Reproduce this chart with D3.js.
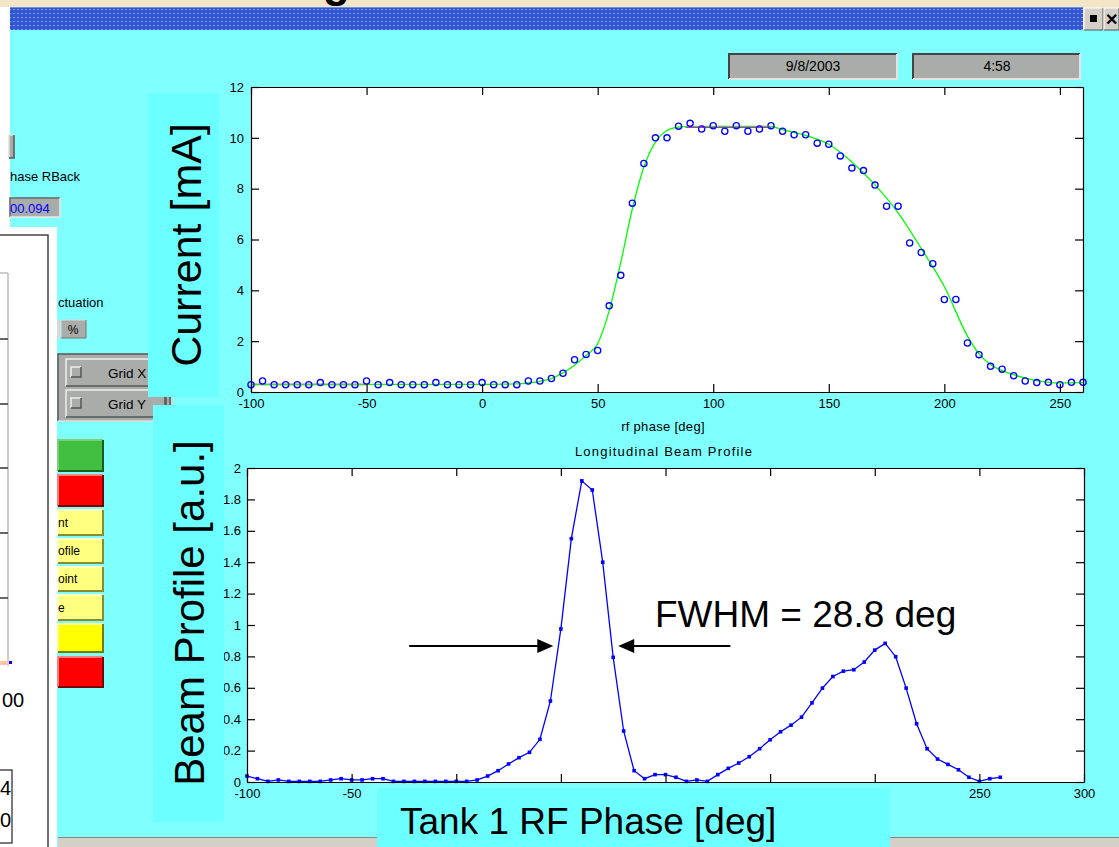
<!DOCTYPE html>
<html>
<head>
<meta charset="utf-8">
<script src="https://cdn.jsdelivr.net/npm/d3@7"></script>
<style>
body { margin: 0; overflow: hidden; background: #fff; }
</style>
</head>
<body>
<div id="chart"></div>
<script>
// phase scan: beam current vs rf phase, plus longitudinal beam profile

var scanPhase = [-100,-95,-90,-85,-80,-75,-70,-65,-60,-55,-50,-45,-40,-35,-30,-25,-20,-15,-10,-5,
  0,5,10,15,20,25,30,35,40,45,50,55,60,65,70,75,80,85,90,95,100,105,110,115,120,125,130,135,140,
  145,150,155,160,165,170,175,180,185,190,195,200,205,210,215,220,225,230,235,240,245,250,255,260];

var currentVals = [0.29,0.43,0.29,0.29,0.29,0.29,0.37,0.29,0.29,0.29,0.43,0.29,0.37,0.29,0.29,0.29,0.37,0.29,0.29,0.29,
  0.37,0.29,0.29,0.29,0.43,0.43,0.53,0.74,1.27,1.48,1.63,3.39,4.59,7.43,8.99,10.0,10.0,10.46,10.57,10.35,
  10.48,10.26,10.48,10.26,10.35,10.48,10.26,10.12,10.12,9.79,9.75,9.29,8.81,8.71,8.14,7.31,7.31,5.86,5.49,5.05,
  3.64,3.64,1.93,1.47,1.01,0.90,0.64,0.43,0.37,0.38,0.29,0.38,0.38];

var fitPhase = [-100,-60,-20,0,10,15,20,25,30,35,40,45,50,55,60,65,70,75,80,85,90,125,130,140,150,160,170,180,190,200,210,215,220,230,240,250,260];
var fitVals  = [0.30,0.30,0.30,0.30,0.31,0.32,0.36,0.42,0.53,0.75,1.05,1.44,1.90,3.20,5.10,7.20,8.85,9.83,10.29,10.42,10.45,10.45,10.32,10.10,9.75,9.05,8.15,7.05,5.65,4.15,2.20,1.50,1.08,0.68,0.45,0.36,0.37];

var plateauX0 = [-100, 88];
var plateauX1 = [-50, 125];
var plateauY  = [0.30, 10.42];

var profileVals = [0.038,0.021,0.004,0.013,0.004,0.004,0.004,0.004,0.013,0.021,0.013,0.013,0.021,0.021,0.004,0.004,0.004,0.004,0.004,0.004,
  0.004,0.004,0.013,0.038,0.072,0.115,0.155,0.189,0.272,0.516,0.975,1.55,1.918,1.86,1.40,0.794,0.325,0.072,0.021,0.047,
  0.047,0.030,0.004,0.013,0.004,0.047,0.087,0.121,0.161,0.212,0.269,0.320,0.362,0.413,0.504,0.598,0.672,0.706,0.715,0.764,
  0.840,0.883,0.798,0.598,0.371,0.212,0.146,0.112,0.078,0.030,0.004,0.021,0.030];

var topXTicks = [-100,-50,0,50,100,150,200,250];
var topYTicks = [0,2,4,6,8,10,12];
var botXTicks = [-100,-50,0,50,100,150,200,250,300];
var botYTicks = [0,0.2,0.4,0.6,0.8,1,1.2,1.4,1.6,1.8,2];

var fwhmFrom = [-22.5, 131];
var fwhmTo   = [46.4, 77.4];
var fwhmLevel = 0.866;

var W = 1119, H = 847;
var cyan = "#80ffff", boxCyan = "#6bffff", uiGray = "#a9aca8";

var svg = d3.select("#chart").append("svg")
  .attr("width", W)
  .attr("height", H)
  .style("font-family", "'Liberation Sans', Arial, sans-serif");

// ---- window chrome ----
var defs = svg.append("defs");
var pat = defs.append("pattern").attr("id", "dots")
  .attr("width", 4).attr("height", 4).attr("patternUnits", "userSpaceOnUse");
pat.append("rect").attr("width", 4).attr("height", 4).attr("fill", "#3357d2");
pat.append("rect").attr("x", 1).attr("y", 1).attr("width", 2).attr("height", 1).attr("fill", "#7f9cf2");

svg.append("rect").attr("width", W).attr("height", H).attr("fill", "#f3e5c8");
svg.append("text").attr("x", 323).attr("y", -3).attr("font-size", 44)
  .attr("font-weight", "bold").text("g");
svg.append("rect").attr("x", 0).attr("y", 7).attr("width", 10).attr("height", 230).attr("fill", "#fff");
svg.append("rect").attr("x", 10).attr("y", 30).attr("width", W - 10).attr("height", H - 30).attr("fill", cyan);
svg.append("rect").attr("x", 10).attr("y", 7).attr("width", 1073).attr("height", 23).attr("fill", "url(#dots)");
svg.append("line").attr("x1", 10).attr("x2", 1083).attr("y1", 7.5).attr("y2", 7.5).attr("stroke", "#6f8fe8");

function bevel(x, y, w, h, fill, light, dark, lw) {
  lw = lw || 1.5;
  svg.append("rect").attr("x", x).attr("y", y).attr("width", w).attr("height", h).attr("fill", fill);
  svg.append("path").attr("d", "M" + x + "," + (y + h) + "V" + y + "H" + (x + w))
    .attr("fill", "none").attr("stroke", light).attr("stroke-width", lw);
  svg.append("path").attr("d", "M" + (x + w) + "," + y + "V" + (y + h) + "H" + x)
    .attr("fill", "none").attr("stroke", dark).attr("stroke-width", lw);
}

bevel(1084, 8, 19, 22, "#d4d0c8", "#ffffff", "#555", 1);
bevel(1104, 8, 15, 22, "#d4d0c8", "#ffffff", "#555", 1);
svg.append("rect").attr("x", 1090).attr("y", 15).attr("width", 7).attr("height", 7).attr("fill", "#000");
svg.append("text").attr("x", 1111).attr("y", 25).attr("font-size", 16).attr("font-weight", "bold")
  .attr("text-anchor", "middle").text("✕");

// date / time boxes
bevel(729, 54, 168, 25, uiGray, "#444", "#e4e4e4", 2);
bevel(913, 54, 167, 25, uiGray, "#444", "#e4e4e4", 2);
svg.append("text").attr("x", 813).attr("y", 71).attr("font-size", 14)
  .attr("text-anchor", "middle").text("9/8/2003");
svg.append("text").attr("x", 997).attr("y", 71).attr("font-size", 14)
  .attr("text-anchor", "middle").text("4:58");

// ---- left control strip ----
bevel(9, 135, 5, 23, uiGray, "#ddd", "#555", 1.5);
svg.append("text").attr("x", 10).attr("y", 181).attr("font-size", 13).text("hase RBack");
bevel(10, 198, 50, 19, uiGray, "#666", "#e8e8e8", 1.5);
svg.append("text").attr("x", 10).attr("y", 213).attr("font-size", 13).attr("fill", "#0000ff").text("00.094");

svg.append("rect").attr("x", 0).attr("y", 227).attr("width", 57).attr("height", H - 227).attr("fill", "#fff");
svg.append("path").attr("d", "M0,235H48V847").attr("fill", "none").attr("stroke", "#444").attr("stroke-width", 1.5);
svg.append("line").attr("x1", 8).attr("x2", 8).attr("y1", 273).attr("y2", 666).attr("stroke", "#999");
[273, 339, 404, 468, 533, 598].forEach(function(y, i) {
  svg.append("line").attr("x1", 0).attr("x2", 8).attr("y1", y).attr("y2", y)
    .attr("stroke", i === 0 ? "#bbb" : "#333").attr("stroke-width", 1.5);
});
svg.append("rect").attr("x", 0).attr("y", 661).attr("width", 9).attr("height", 4).attr("fill", "#ffc4a8");
svg.append("rect").attr("x", 9).attr("y", 661).attr("width", 3).attr("height", 3).attr("fill", "#0000ff");
svg.append("text").attr("x", 2).attr("y", 707).attr("font-size", 20).text("00");
svg.append("rect").attr("x", -1).attr("y", 770).attr("width", 13).attr("height", 73)
  .attr("fill", "none").attr("stroke", "#222").attr("stroke-width", 1.2);
svg.append("text").attr("x", 11).attr("y", 795).attr("font-size", 20).attr("text-anchor", "end").text("4");
svg.append("text").attr("x", 11).attr("y", 827).attr("font-size", 20).attr("text-anchor", "end").text("0");

svg.append("text").attr("x", 58).attr("y", 307).attr("font-size", 13).text("ctuation");
svg.append("rect").attr("x", 57).attr("y", 320).attr("width", 3).attr("height", 18).attr("fill", "#d8d8d8");
bevel(61, 320, 25, 18, uiGray, "#ddd", "#777", 1);
svg.append("text").attr("x", 73).attr("y", 334).attr("font-size", 12).attr("text-anchor", "middle").text("%");

bevel(58, 354, 114, 67, uiGray, "#555", "#ddd", 1.5);
["Grid X", "Grid Y"].forEach(function(lbl, i) {
  var y = 359 + i * 31;
  bevel(66, y, 99, 27, uiGray, "#eee", "#555", 1.5);
  bevel(71, y + 8, 10, 10, uiGray, "#eee", "#555", 1.5);
  svg.append("text").attr("x", 108).attr("y", y + 19).attr("font-size", 13.5).text(lbl);
});
svg.append("line").attr("x1", 166).attr("x2", 166).attr("y1", 397).attr("y2", 405).attr("stroke", "#555").attr("stroke-width", 1.5);
svg.append("line").attr("x1", 170).attr("x2", 170).attr("y1", 397).attr("y2", 405).attr("stroke", "#555").attr("stroke-width", 1.5);

var btns = [
  {y: 440, h: 31, fill: "#40bf40", dark: "#1c5c1c", light: "#7ad07a", t: ""},
  {y: 475, h: 31, fill: "#ff0000", dark: "#7a0000", light: "#ff8080", t: ""},
  {y: 510, h: 25, fill: "#ffff80", dark: "#8a8a30", light: "#ffffc0", t: "nt"},
  {y: 539, h: 24, fill: "#ffff80", dark: "#8a8a30", light: "#ffffc0", t: "ofile"},
  {y: 567, h: 24, fill: "#ffff80", dark: "#8a8a30", light: "#ffffc0", t: "oint"},
  {y: 595, h: 25, fill: "#ffff80", dark: "#8a8a30", light: "#ffffc0", t: "e"},
  {y: 624, h: 28, fill: "#ffff00", dark: "#7a7a00", light: "#ffff90", t: ""},
  {y: 657, h: 30, fill: "#ff0000", dark: "#7a0000", light: "#ff8080", t: ""}
];
btns.forEach(function(b) {
  bevel(58, b.y, 45, b.h, b.fill, b.light, b.dark, 2);
  if (b.t) svg.append("text").attr("x", 58).attr("y", b.y + b.h / 2 + 4).attr("font-size", 12).text(b.t);
});

// bottom status strip
svg.append("rect").attr("x", 58).attr("y", 837).attr("width", W - 58).attr("height", 10).attr("fill", "#d4d0c8");
svg.append("line").attr("x1", 58).attr("x2", W).attr("y1", 837.5).attr("y2", 837.5).attr("stroke", "#888");

// ---- top chart: beam current ----
var topX = d3.scaleLinear().domain([-100, 260]).range([251, 1083]);
var topY = d3.scaleLinear().domain([0, 12]).range([392, 87]);
var topG = svg.append("g");

topG.append("rect")
  .attr("x", topX(-100)).attr("y", topY(12))
  .attr("width", topX(260) - topX(-100)).attr("height", topY(0) - topY(12))
  .attr("fill", "#fff");

topG.selectAll(".plateau")
  .data(plateauY)
  .enter()
  .append("line")
  .attr("x1", function(d, i) { return topX(plateauX0[i]); })
  .attr("x2", function(d, i) { return topX(plateauX1[i]); })
  .attr("y1", function(d) { return topY(d); })
  .attr("y2", function(d) { return topY(d); })
  .attr("stroke", "#ff00ff")
  .attr("stroke-width", 1.5);

var fitLine = d3.line()
  .x(function(d, i) { return topX(fitPhase[i]); })
  .y(function(d) { return topY(d); })
  .curve(d3.curveMonotoneX);

topG.append("path")
  .attr("d", fitLine(fitVals))
  .attr("fill", "none")
  .attr("stroke", "#00ff00")
  .attr("stroke-width", 1.3);

topG.selectAll("circle")
  .data(currentVals)
  .enter()
  .append("circle")
  .attr("cx", function(d, i) { return topX(scanPhase[i]); })
  .attr("cy", function(d) { return topY(d); })
  .attr("r", 3.1)
  .attr("fill", "none")
  .attr("stroke", "#0000ff")
  .attr("stroke-width", 1.3);

function styleAxis(g) {
  g.selectAll("path").attr("stroke", "#000").attr("stroke-width", 1.2);
  g.selectAll("line").attr("stroke", "#000").attr("stroke-width", 1.2);
  g.selectAll("text").attr("font-family", "'Liberation Sans', Arial, sans-serif")
    .attr("font-size", 13).attr("fill", "#000");
}

topG.append("g").attr("transform", "translate(0," + topY(0) + ")")
  .call(d3.axisBottom(topX).tickValues(topXTicks).tickSizeInner(-8).tickSizeOuter(0).tickPadding(7).tickFormat(String))
  .call(styleAxis);
topG.append("g").attr("transform", "translate(0," + topY(12) + ")")
  .call(d3.axisTop(topX).tickValues(topXTicks).tickSizeInner(-8).tickSizeOuter(0).tickFormat(""))
  .call(styleAxis);
topG.append("g").attr("transform", "translate(" + topX(-100) + ",0)")
  .call(d3.axisLeft(topY).tickValues(topYTicks).tickSizeInner(-8).tickSizeOuter(0).tickPadding(7).tickFormat(String))
  .call(styleAxis);
topG.append("g").attr("transform", "translate(" + topX(260) + ",0)")
  .call(d3.axisRight(topY).tickValues(topYTicks).tickSizeInner(-8).tickSizeOuter(0).tickFormat(""))
  .call(styleAxis);

svg.append("text").attr("x", 663).attr("y", 431).attr("font-size", 13)
  .attr("letter-spacing", 0.3).attr("text-anchor", "middle").text("rf phase [deg]");

// ---- bottom chart: longitudinal beam profile ----
var botX = d3.scaleLinear().domain([-100, 300]).range([247, 1084]);
var botY = d3.scaleLinear().domain([0, 2]).range([782, 468]);
var botG = svg.append("g");

svg.append("text").attr("x", 664).attr("y", 456).attr("font-size", 13)
  .attr("letter-spacing", 1.2).attr("text-anchor", "middle").text("Longitudinal Beam Profile");

botG.append("rect")
  .attr("x", botX(-100)).attr("y", botY(2))
  .attr("width", botX(300) - botX(-100)).attr("height", botY(0) - botY(2))
  .attr("fill", "#fff");

var profLine = d3.line()
  .x(function(d, i) { return botX(scanPhase[i]); })
  .y(function(d) { return botY(d); });

botG.append("path")
  .attr("d", profLine(profileVals))
  .attr("fill", "none")
  .attr("stroke", "#0000ff")
  .attr("stroke-width", 1.3);

botG.selectAll(".pt")
  .data(profileVals)
  .enter()
  .append("rect")
  .attr("x", function(d, i) { return botX(scanPhase[i]) - 1.8; })
  .attr("y", function(d) { return botY(d) - 1.8; })
  .attr("width", 3.6)
  .attr("height", 3.6)
  .attr("fill", "#0000ff");

botG.append("g").attr("transform", "translate(0," + botY(0) + ")")
  .call(d3.axisBottom(botX).tickValues(botXTicks).tickSizeInner(-8).tickSizeOuter(0).tickPadding(7).tickFormat(String))
  .call(styleAxis);
botG.append("g").attr("transform", "translate(0," + botY(2) + ")")
  .call(d3.axisTop(botX).tickValues(botXTicks).tickSizeInner(-8).tickSizeOuter(0).tickFormat(""))
  .call(styleAxis);
botG.append("g").attr("transform", "translate(" + botX(-100) + ",0)")
  .call(d3.axisLeft(botY).tickValues(botYTicks).tickSizeInner(-8).tickSizeOuter(0).tickPadding(6).tickFormat(String))
  .call(styleAxis);
botG.append("g").attr("transform", "translate(" + botX(300) + ",0)")
  .call(d3.axisRight(botY).tickValues(botYTicks).tickSizeInner(-8).tickSizeOuter(0).tickFormat(""))
  .call(styleAxis);

// ---- FWHM annotation ----
fwhmFrom.forEach(function(f, i) {
  var x0 = botX(f), x1 = botX(fwhmTo[i]), y = botY(fwhmLevel);
  var dir = x1 > x0 ? 1 : -1;
  svg.append("line").attr("x1", x0).attr("x2", x1 - dir * 14).attr("y1", y).attr("y2", y)
    .attr("stroke", "#000").attr("stroke-width", 2);
  svg.append("path")
    .attr("d", "M" + x1 + "," + y + "L" + (x1 - dir * 16) + "," + (y - 7) + "L" + (x1 - dir * 16) + "," + (y + 7) + "Z")
    .attr("fill", "#000");
});
svg.append("text").attr("x", 655).attr("y", 627).attr("font-size", 37).text("FWHM = 28.8 deg");

// ---- big overlay labels ----
svg.append("rect").attr("x", 148).attr("y", 93).attr("width", 71).attr("height", 304).attr("fill", boxCyan);
svg.append("text").attr("transform", "translate(201,245) rotate(-90)")
  .attr("font-size", 43).attr("text-anchor", "middle").text("Current [mA]");

svg.append("rect").attr("x", 153).attr("y", 405).attr("width", 71).attr("height", 417).attr("fill", boxCyan);
svg.append("text").attr("transform", "translate(204,613) rotate(-90)")
  .attr("font-size", 42).attr("text-anchor", "middle").text("Beam Profile [a.u.]");

svg.append("rect").attr("x", 377).attr("y", 788).attr("width", 513).attr("height", 59).attr("fill", boxCyan);
svg.append("text").attr("x", 400).attr("y", 834).attr("font-size", 37).text("Tank 1 RF Phase [deg]");
</script>
</body>
</html>
